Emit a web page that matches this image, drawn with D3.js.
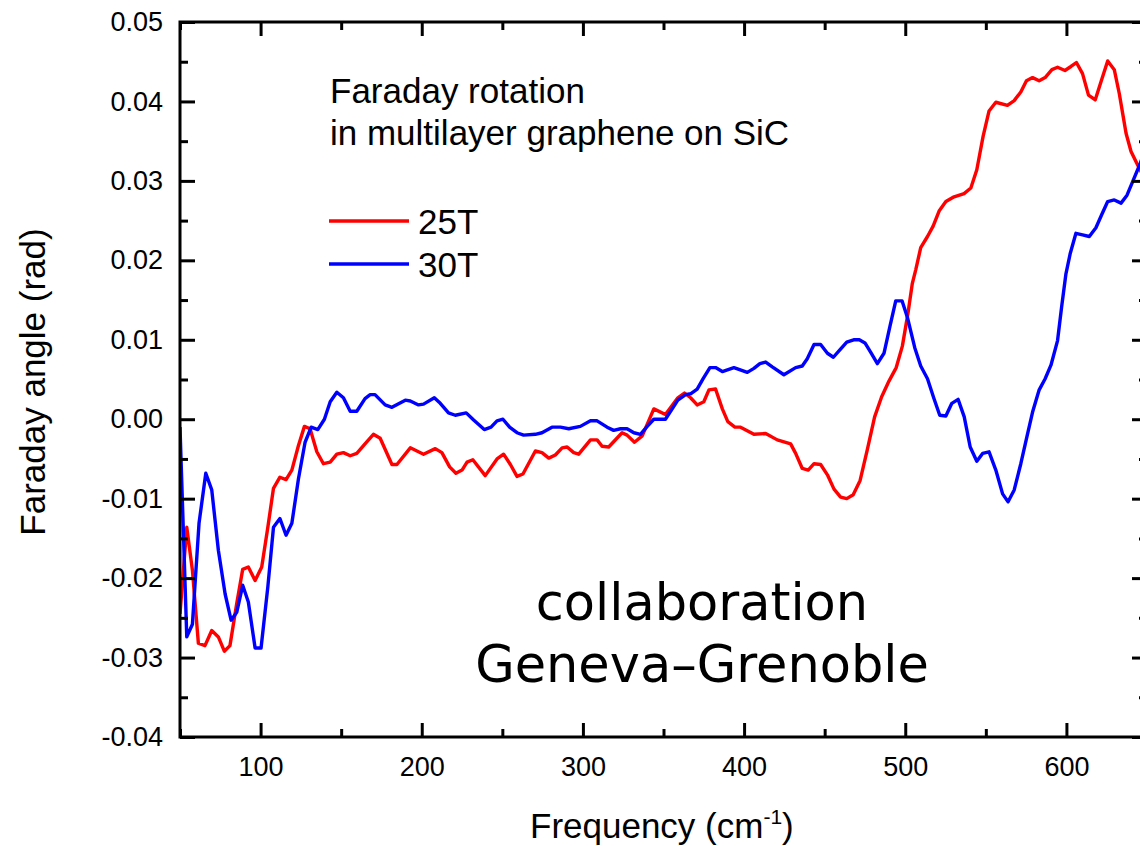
<!DOCTYPE html>
<html>
<head>
<meta charset="utf-8">
<script src="https://cdn.jsdelivr.net/npm/d3@7"></script>
<style>
  body { margin: 0; background: #fff; }
  text { font-family: "Liberation Sans", Arial, sans-serif; fill: #000; }
</style>
</head>
<body>
<svg id="drawing_region"></svg>
<script>
// 25T curve
const freq25 = [50, 54.2, 57.7, 61.4, 65.5, 69.7, 73.8, 77.5, 81, 85.2, 88.9, 92.4, 96.6, 100.7, 104.5, 108, 112, 115.8, 119.4, 123.5,
  127.2, 130.7, 134.9, 139, 143.2, 147.3, 151.4, 155.6, 159.7, 164.8, 170, 174.2, 181.5, 184.6, 192.9, 201.1, 208.4, 212.5, 217.3, 221.2,
  225, 228.1, 231.7, 239.4, 246.7, 250.8, 255, 259.1, 262.8, 270.5, 274.6, 278.8, 282.9, 287.1, 290.2, 294.3, 297.4, 304.7, 308.8, 311.9,
  316, 324.3, 327.4, 332, 336.8, 344, 351.2, 358.9, 363, 366.8, 370.9, 375, 378.2, 382.3, 386.5, 389.9, 394.3, 397.8, 406.1, 413.4,
  420.6, 428.9, 432, 436.1, 439.8, 443.4, 447.5, 451.7, 455.8, 459.9, 463.7, 467.7, 472, 476.5, 481, 485.3, 489.9, 494.4, 498.2, 501.5,
  504.4, 506.5, 509.6, 513.8, 517.3, 521, 525.2, 530.3, 536.5, 540.7, 544.4, 548.3, 552, 556.2, 563.4, 567.6, 571.7, 575.2, 579, 583.1,
  586.8, 591, 594.5, 599.1, 602.8, 606.2, 610, 613.7, 617.9, 621.8, 625.6, 629.7, 632.8, 634.9, 637, 640.1, 644.2, 648];
const angle25 = [-0.0245, -0.0136, -0.0190, -0.0282, -0.0285, -0.0266, -0.0274, -0.0292, -0.0285, -0.0232, -0.0189, -0.0186, -0.0203, -0.0186, -0.0136, -0.0087, -0.0073, -0.0076, -0.0064, -0.0033,
  -0.0009, -0.0012, -0.0041, -0.0056, -0.0054, -0.0044, -0.0042, -0.0046, -0.0043, -0.0031, -0.0019, -0.0024, -0.0057, -0.0057, -0.0036, -0.0044, -0.0037, -0.0042, -0.0060, -0.0068,
  -0.0064, -0.0054, -0.0051, -0.0071, -0.0050, -0.0044, -0.0057, -0.0072, -0.0069, -0.0040, -0.0042, -0.0049, -0.0045, -0.0036, -0.0035, -0.0042, -0.0044, -0.0026, -0.0026, -0.0034,
  -0.0035, -0.0017, -0.0020, -0.0029, -0.0021, 0.0013, 0.0006, 0.0027, 0.0033, 0.0027, 0.0018, 0.0022, 0.0037, 0.0038, 0.0013, -0.0003, -0.0010, -0.0010, -0.0019, -0.0018,
  -0.0026, -0.0031, -0.0043, -0.0062, -0.0064, -0.0056, -0.0057, -0.0070, -0.0088, -0.0098, -0.0100, -0.0095, -0.0077, -0.0038, 0.0003, 0.0028, 0.0048, 0.0065, 0.0092, 0.0131,
  0.0171, 0.0188, 0.0216, 0.0230, 0.0243, 0.0262, 0.0274, 0.0280, 0.0284, 0.0291, 0.0314, 0.0356, 0.0388, 0.0399, 0.0395, 0.0401, 0.0412, 0.0426, 0.0430, 0.0426,
  0.0430, 0.0440, 0.0443, 0.0439, 0.0444, 0.0449, 0.0435, 0.0408, 0.0402, 0.0427, 0.0451, 0.0440, 0.0410, 0.0385, 0.0360, 0.0337, 0.0320, 0.0305];

// 30T curve
const freq30 = [50, 54.2, 57.7, 61.8, 66, 69.7, 73.8, 78, 81.7, 85.2, 88.9, 92.4, 96.6, 100.3, 104.5, 108, 112, 115.8, 119.4, 123.5,
  127.6, 131.4, 135.5, 139.6, 143.2, 147.3, 151.4, 155.6, 159.7, 164.8, 168, 171, 177.3, 181.5, 189.8, 192.9, 198, 201.1, 207.8, 211.5,
  216.6, 220.8, 227.6, 232.2, 238.8, 243, 246.7, 250.4, 254.5, 259.1, 263.2, 270.5, 274.6, 280.8, 286, 291.2, 298.4, 304.7, 308.8, 315,
  319.1, 323.3, 327.4, 331.6, 335.7, 339.9, 344, 351.2, 358.9, 363.7, 366.8, 370.9, 374.6, 378.8, 382.3, 386.5, 393.7, 402, 406.1, 409.8,
  413.4, 417.5, 424.7, 432, 436.1, 439.2, 443.4, 447.5, 451.7, 455.4, 459.7, 463.7, 468, 471.5, 475, 478.6, 482.7, 486.8, 490.5, 494.1,
  498, 501.5, 505.9, 509.6, 513.8, 517.8, 521.4, 525.2, 528.9, 532.8, 536.6, 540.3, 544.4, 548, 552, 556.2, 560.4, 563.8, 567.6, 571.7,
  575.5, 579, 583.1, 586.8, 590.4, 594.5, 597, 599.7, 602.4, 605.9, 610, 614.2, 618.3, 621.8, 625.6, 629.7, 633.9, 637.6, 641.1, 645.8, 649];
const angle30 = [-0.0010, -0.0274, -0.0258, -0.0131, -0.0068, -0.0089, -0.0165, -0.0220, -0.0253, -0.0243, -0.0209, -0.0230, -0.0288, -0.0288, -0.0211, -0.0136, -0.0125, -0.0146, -0.0131, -0.0075,
  -0.0029, -0.0010, -0.0013, 0.0000, 0.0022, 0.0034, 0.0027, 0.0010, 0.0010, 0.0026, 0.0031, 0.0031, 0.0018, 0.0015, 0.0024, 0.0023, 0.0018, 0.0019, 0.0027, 0.0020,
  0.0008, 0.0005, 0.0008, -0.0001, -0.0013, -0.0010, -0.0002, 0.0000, -0.0010, -0.0017, -0.0020, -0.0019, -0.0017, -0.0010, -0.0010, -0.0012, -0.0009, -0.0002, -0.0002, -0.0010,
  -0.0014, -0.0012, -0.0012, -0.0017, -0.0019, -0.0009, 0.0000, 0.0000, 0.0024, 0.0031, 0.0032, 0.0038, 0.0051, 0.0065, 0.0065, 0.0060, 0.0065, 0.0059, 0.0064, 0.0070,
  0.0072, 0.0066, 0.0056, 0.0065, 0.0067, 0.0076, 0.0094, 0.0094, 0.0083, 0.0078, 0.0088, 0.0097, 0.0100, 0.0100, 0.0096, 0.0084, 0.0070, 0.0083, 0.0117, 0.0149,
  0.0149, 0.0127, 0.0090, 0.0067, 0.0051, 0.0026, 0.0005, 0.0004, 0.0020, 0.0025, 0.0003, -0.0035, -0.0053, -0.0043, -0.0041, -0.0064, -0.0094, -0.0104, -0.0089, -0.0056,
  -0.0022, 0.0009, 0.0037, 0.0051, 0.0068, 0.0099, 0.0141, 0.0183, 0.0209, 0.0234, 0.0232, 0.0230, 0.0241, 0.0257, 0.0274, 0.0276, 0.0272, 0.0282, 0.0299, 0.0322, 0.0340];

const xTicks = [100, 200, 300, 400, 500, 600];
const xMinorTicks = [50, 150, 250, 350, 450, 550, 650];
const yTicks = [-0.04, -0.03, -0.02, -0.01, 0.00, 0.01, 0.02, 0.03, 0.04, 0.05];
const yMinorTicks = [-0.035, -0.025, -0.015, -0.005, 0.005, 0.015, 0.025, 0.035, 0.045];

const seriesNames = ['25T', '30T'];
const seriesColors = ['#ff0000', '#0000ff'];
const titleLines = ['Faraday rotation', 'in multilayer graphene on SiC'];
const stampLines = ['collaboration', 'Geneva\u2013Grenoble'];

const config = {
    parent: '#drawing_region',
    width: 1140,
    height: 846,
    margin: {top: 22, right: -7, bottom: 109, left: 180},
    xdomain: [50, 650],
    ydomain: [-0.04, 0.05]
};

const svg = d3.select(config.parent)
    .attr('width', config.width)
    .attr('height', config.height);

const inner_width = config.width - config.margin.left - config.margin.right;
const inner_height = config.height - config.margin.top - config.margin.bottom;

const chart = svg.append('g')
    .attr('transform', `translate(${config.margin.left}, ${config.margin.top})`);

const xscale = d3.scaleLinear().domain(config.xdomain).range([0, inner_width]);
const yscale = d3.scaleLinear().domain(config.ydomain).range([inner_height, 0]);

chart.append('clipPath').attr('id', 'plot_clip')
    .append('rect').attr('width', inner_width).attr('height', inner_height);

// curves
const line = d3.line()
    .x(d => xscale(d[0]))
    .y(d => yscale(d[1]));

const series = [d3.zip(freq25, angle25), d3.zip(freq30, angle30)];
chart.append('g').attr('clip-path', 'url(#plot_clip)')
    .selectAll('path')
    .data(series)
    .join('path')
    .attr('d', line)
    .attr('fill', 'none')
    .attr('stroke', (d, i) => seriesColors[i])
    .attr('stroke-width', 3.4)
    .attr('stroke-linejoin', 'round');

// axes with inward ticks, major + minor, on all four sides
function styleAxis(g) {
    g.select('.domain').remove();
    g.selectAll('line').attr('stroke', '#000').attr('stroke-width', 3);
    g.selectAll('text').attr('font-family', '"Liberation Sans", Arial, sans-serif')
        .attr('font-size', 27).attr('fill', '#000');
}

const yfmt = d => d.toFixed(2);

chart.append('g')
    .call(d3.axisLeft(yscale).tickValues(yTicks).tickFormat(yfmt).tickSizeInner(-15).tickSizeOuter(0).tickPadding(17))
    .call(styleAxis);
chart.append('g')
    .call(d3.axisLeft(yscale).tickValues(yMinorTicks).tickFormat('').tickSizeInner(-8).tickSizeOuter(0))
    .call(styleAxis);
chart.append('g').attr('transform', `translate(${inner_width}, 0)`)
    .call(d3.axisRight(yscale).tickValues(yTicks).tickFormat('').tickSizeInner(-15).tickSizeOuter(0))
    .call(styleAxis);
chart.append('g').attr('transform', `translate(${inner_width}, 0)`)
    .call(d3.axisRight(yscale).tickValues(yMinorTicks).tickFormat('').tickSizeInner(-8).tickSizeOuter(0))
    .call(styleAxis);

chart.append('g').attr('transform', `translate(0, ${inner_height})`)
    .call(d3.axisBottom(xscale).tickValues(xTicks).tickFormat(d3.format('d')).tickSizeInner(-14).tickSizeOuter(0).tickPadding(20))
    .call(styleAxis);
chart.append('g').attr('transform', `translate(0, ${inner_height})`)
    .call(d3.axisBottom(xscale).tickValues(xMinorTicks).tickFormat('').tickSizeInner(-8).tickSizeOuter(0))
    .call(styleAxis);
chart.append('g')
    .call(d3.axisTop(xscale).tickValues(xTicks).tickFormat('').tickSizeInner(-14).tickSizeOuter(0))
    .call(styleAxis);
chart.append('g')
    .call(d3.axisTop(xscale).tickValues(xMinorTicks).tickFormat('').tickSizeInner(-8).tickSizeOuter(0))
    .call(styleAxis);

// frame
chart.append('rect')
    .attr('width', inner_width)
    .attr('height', inner_height)
    .attr('fill', 'none')
    .attr('stroke', '#000')
    .attr('stroke-width', 3);

// axis titles
svg.append('text')
    .attr('transform', `translate(45, 382) rotate(-90)`)
    .attr('text-anchor', 'middle')
    .style('font-size', '35px')
    .text('Faraday angle (rad)');

const xlabel = svg.append('text')
    .attr('x', 530)
    .attr('y', 838)
    .style('font-size', '35px');
xlabel.append('tspan').text('Frequency (cm');
xlabel.append('tspan').attr('dy', -14).style('font-size', '21px').text('-1');
xlabel.append('tspan').attr('dy', 14).text(')');

// title block
svg.selectAll('.title_line')
    .data(titleLines)
    .join('text')
    .attr('class', 'title_line')
    .attr('x', 330)
    .attr('y', (d, i) => 103 + i * 42)
    .style('font-size', '35px')
    .text(d => d);

// legend
const legend = svg.append('g').attr('transform', 'translate(329, 221)');
const legend_item = legend.selectAll('g')
    .data(seriesNames)
    .join('g')
    .attr('transform', (d, i) => `translate(0, ${i * 43})`);
legend_item.append('line')
    .attr('x1', 0).attr('x2', 80)
    .attr('stroke', (d, i) => seriesColors[i])
    .attr('stroke-width', 3.4);
legend_item.append('text')
    .attr('x', 89)
    .attr('y', 12.5)
    .style('font-size', '35px')
    .text(d => d);

// stamp
svg.selectAll('.stamp_line')
    .data(stampLines)
    .join('text')
    .attr('class', 'stamp_line')
    .attr('x', 702)
    .attr('y', (d, i) => 620 + i * 62)
    .attr('text-anchor', 'middle')
    .style('font-family', '"DejaVu Sans", sans-serif')
    .style('font-size', '51px')
    .text(d => d);
</script>
</body>
</html>
